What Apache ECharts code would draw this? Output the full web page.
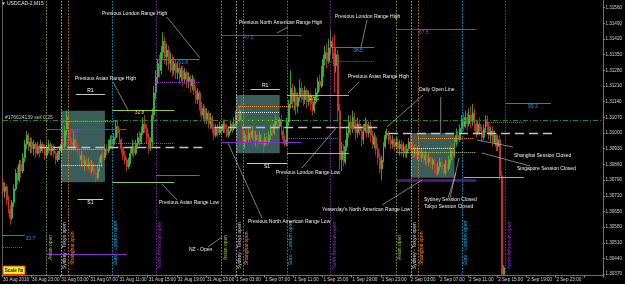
<!DOCTYPE html>
<html><head><meta charset="utf-8">
<script src="https://cdn.jsdelivr.net/npm/echarts@6/dist/echarts.min.js"></script>
<style>html,body{margin:0;padding:0;background:#000;}#c{width:625px;height:284px;}</style>
</head><body><div id="c"></div>
<script>
// ---------- DATA (prices are quoted x 10000, e.g. 13092 = 1.3092) ----------
const opens = [
13078,13074,13076,13070,13066,13062,13069,13075,13082,13079,
13086,13083,13089,13095,13099,13094,13096,13093,13095,13091,
13094,13092,13095,13093,13090,13093,13095,13092,13094,13091,
13088,13090,13092,13095,13094,13101,13107,13100,13096,13093,
13097,13094,13091,13088,13090,13086,13088,13085,13087,13083,
13086,13082,13080,13084,13087,13090,13089,13093,13092,13095,
13097,13095,13098,13103,13100,13097,13093,13090,13088,13085,
13087,13091,13094,13091,13095,13098,13096,13100,13104,13102,
13098,13093,13096,13108,13118,13125,13131,13128,13136,13141,
13134,13137,13131,13133,13128,13131,13127,13129,13125,13128,
13124,13127,13123,13125,13121,13124,13119,13115,13118,13112,
13108,13111,13106,13109,13104,13107,13102,13099,13102,13100,
13103,13101,13104,13102,13099,13101,13104,13102,13104,13108,
13106,13110,13103,13096,13099,13097,13100,13098,13101,13097,
13099,13096,13099,13097,13095,13098,13096,13099,13102,13100,
13104,13106,13103,13106,13101,13097,13095,13105,13113,13120,
13114,13118,13112,13116,13120,13117,13115,13119,13114,13117,
13113,13110,13114,13118,13123,13121,13127,13133,13136,13132,
13138,13141,13136,13130,13135,13110,13088,13092,13087,13094,
13100,13105,13102,13107,13104,13100,13104,13101,13097,13101,
13104,13100,13103,13099,13095,13098,13093,13089,13084,13088,
13094,13099,13100,13097,13095,13097,13094,13096,13093,13095,
13092,13094,13091,13093,13096,13094,13091,13093,13090,13092,
13089,13091,13088,13090,13087,13089,13086,13088,13084,13082,
13085,13087,13084,13082,13086,13084,13088,13092,13090,13096,
13099,13097,13102,13106,13103,13107,13104,13108,13105,13109,
13104,13100,13104,13101,13098,13102,13106,13103,13099,13101,
13096,13099,13094,13097,13081,13037];
const closes = [
13074,13076,13070,13066,13062,13069,13075,13082,13079,13086,
13083,13089,13095,13099,13094,13096,13093,13095,13091,13094,
13092,13095,13093,13090,13093,13095,13092,13094,13091,13088,
13090,13092,13095,13094,13101,13107,13100,13096,13093,13097,
13094,13091,13088,13090,13086,13088,13085,13087,13083,13086,
13082,13080,13084,13087,13090,13089,13093,13092,13095,13097,
13095,13098,13103,13100,13097,13093,13090,13088,13085,13087,
13091,13094,13091,13095,13098,13096,13100,13104,13102,13098,
13093,13096,13108,13118,13125,13131,13128,13136,13141,13134,
13137,13131,13133,13128,13131,13127,13129,13125,13128,13124,
13127,13123,13125,13121,13124,13119,13115,13118,13112,13108,
13111,13106,13109,13104,13107,13102,13099,13102,13100,13103,
13101,13104,13102,13099,13101,13104,13102,13104,13108,13106,
13110,13103,13096,13099,13097,13100,13098,13101,13097,13099,
13096,13099,13097,13095,13098,13096,13099,13102,13100,13104,
13106,13103,13106,13101,13097,13095,13105,13113,13120,13114,
13118,13112,13116,13120,13117,13115,13119,13114,13117,13113,
13110,13114,13118,13123,13121,13127,13133,13136,13132,13138,
13141,13136,13130,13135,13110,13088,13092,13087,13094,13100,
13105,13102,13107,13104,13100,13104,13101,13097,13101,13104,
13100,13103,13099,13095,13098,13093,13089,13084,13088,13094,
13099,13100,13097,13095,13097,13094,13096,13093,13095,13092,
13094,13091,13093,13096,13094,13091,13093,13090,13092,13089,
13091,13088,13090,13087,13089,13086,13088,13084,13082,13085,
13087,13084,13082,13086,13084,13088,13092,13090,13096,13099,
13097,13102,13106,13103,13107,13104,13108,13105,13109,13104,
13100,13104,13101,13098,13102,13106,13103,13099,13101,13096,
13099,13094,13097,13081,13037,13040];
const lows = [
13072,13071,13068,13064,13059,13061,13067,13074,13077,13078,
13080,13082,13087,13093,13092,13091,13091,13090,13089,13090,
13089,13091,13091,13088,13089,13091,13090,13090,13089,13086,
13087,13088,13091,13092,13093,13099,13098,13094,13091,13092,
13092,13089,13086,13085,13084,13083,13083,13084,13081,13082,
13080,13078,13079,13083,13085,13087,13088,13090,13091,13093,
13093,13094,13097,13098,13095,13091,13088,13086,13083,13084,
13086,13090,13089,13090,13093,13094,13095,13099,13100,13095,
13091,13092,13094,13106,13115,13122,13125,13126,13133,13131,
13130,13128,13127,13125,13126,13124,13124,13122,13123,13121,
13122,13120,13120,13118,13119,13117,13113,13113,13110,13106,
13106,13104,13104,13102,13102,13100,13097,13098,13098,13099,
13099,13100,13100,13098,13098,13100,13100,13101,13103,13104,
13105,13101,13094,13093,13095,13096,13096,13097,13095,13094,
13093,13095,13095,13091,13094,13094,13095,13097,13098,13099,
13102,13101,13102,13099,13095,13094,13094,13103,13111,13111,
13110,13108,13109,13114,13114,13112,13113,13111,13112,13110,
13108,13109,13113,13117,13119,13120,13125,13130,13129,13131,
13135,13133,13118,13127,13105,13084,13083,13085,13086,13092,
13098,13099,13100,13101,13097,13098,13099,13094,13095,13100,
13098,13098,13096,13093,13093,13090,13086,13082,13079,13087,
13093,13097,13095,13093,13093,13092,13093,13091,13090,13090,
13089,13089,13089,13092,13092,13089,13089,13088,13088,13087,
13087,13086,13086,13085,13085,13084,13084,13082,13081,13081,
13083,13082,13080,13081,13082,13083,13086,13088,13089,13094,
13095,13096,13100,13101,13102,13101,13103,13102,13103,13101,
13098,13099,13099,13096,13097,13100,13100,13097,13096,13094,
13095,13092,13092,13079,13036.5,13036.5];
const highs = [
13080,13078,13077,13072,13068,13070,13077,13084,13085,13088,
13088,13091,13097,13101,13100,13098,13098,13097,13096,13096,
13095,13097,13096,13095,13095,13097,13096,13095,13095,13092,
13092,13094,13097,13098,13103,13110,13108,13102,13098,13101,
13099,13096,13093,13092,13091,13090,13090,13089,13088,13088,
13087,13084,13086,13089,13091,13093,13095,13095,13097,13099,
13099,13100,13105,13106,13102,13098,13094,13092,13089,13089,
13093,13097,13096,13097,13100,13101,13103,13107,13108,13104,
13100,13098,13111,13121,13128,13133,13135,13139,13145,13143,
13140,13139,13136,13135,13134,13133,13132,13131,13130,13130,
13129,13128,13127,13126,13126,13125,13121,13120,13119,13114,
13113,13112,13111,13110,13109,13108,13104,13104,13104,13105,
13104,13106,13106,13104,13103,13106,13105,13107,13110,13111,
13112,13117,13105,13101,13102,13102,13103,13103,13103,13101,
13100,13101,13100,13098,13100,13100,13101,13104,13104,13106,
13108,13108,13107,13108,13103,13099,13107,13115,13128,13122,
13121,13120,13118,13124,13123,13119,13121,13120,13119,13118,
13115,13116,13120,13125,13126,13130,13135,13139,13140,13142,
13146,13143,13144,13138,13137,13113,13096,13095,13097,13103,
13108,13108,13110,13109,13106,13107,13106,13103,13104,13107,
13106,13105,13105,13101,13100,13099,13095,13091,13090,13096,
13101,13102,13101,13099,13099,13098,13098,13098,13097,13097,
13096,13095,13095,13098,13100,13096,13095,13094,13094,13093,
13093,13092,13092,13091,13091,13090,13089,13089,13086,13087,
13089,13089,13086,13088,13088,13090,13094,13095,13098,13102,
13101,13104,13108,13109,13110,13109,13111,13112,13113,13111,
13106,13106,13107,13103,13104,13108,13108,13105,13103,13103,
13101,13100,13099,13099,13083,13041];

const xTickLabels = ["30 Aug 2016","30 Aug 23:00","31 Aug 03:00","31 Aug 07:00","31 Aug 11:00","31 Aug 15:00","31 Aug 19:00","31 Aug 23:00","1 Sep 03:00","1 Sep 07:00","1 Sep 11:00","1 Sep 15:00","1 Sep 19:00","1 Sep 23:00","2 Sep 03:00","2 Sep 07:00","2 Sep 11:00","2 Sep 15:00","2 Sep 19:00","2 Sep 23:00"];
const yTickValues = [13037,13044,13051,13058,13065,13072,13079,13086,13093,13100,13107,13114,13121,13128,13135,13142,13149,13156];
const totalSlots = 330;          // bar slots on the time axis (incl. empty future)
const barsPerLabel = 16;          // 4 hours of M15 bars

// session opens (bar index)
const sessionNames = ["Asian open","Sydney - Tokyo open","Shanghai open","Euro - London open","North American open"];
const sessionBars = [[24,120,216],[32,128,224],[36,132,228],[60,156,252],[84,180,276]];

// Asian range boxes: [startBar, endBar, high, low]
const asianBoxes = [[32,56,13110,13078],[128,152,13117,13091],[224,248,13100,13080]];
// Daily open lines: [startBar, endBar, price]
const dailyOpens = [[20,112,13093.8],[116,208,13102.8],[212,304,13099.9]];
// Range levels: [startBar, endBar, price, kind, label]
const levels = [
 [0,12,13054.2,'london','33.7'],[0,11,13049.0,'naDot',''],
 [24,68,13101.8,'na','25.8'],[24,68,13045.9,'na',''],
 [60,94,13110.3,'asian','32.8'],[60,94,13078.0,'asian',''],
 [84,108,13132.9,'london','51.6'],[84,108,13081.3,'london',''],[84,108,13122.7,'naDot',''],
 [32,63,13105.4,'orangeDot',''],[32,55,13085.5,'whiteDot',''],[24,55,13092.8,'asianDot',''],[61,94,13095.4,'blueDot',''],
 [120,164,13143.8,'na','47.0'],[120,164,13095.9,'na',''],
 [156,190,13116.7,'asian','28.1'],[156,190,13091.0,'asian',''],
 [180,204,13138.1,'london','38.5'],[180,204,13132.2,'naDot',''],[180,204,13102.5,'london',''],
 [128,160,13112.1,'orangeDot',''],[128,152,13109.3,'whiteDot',''],[128,164,13105.5,'asianDot',''],[157,184,13097.7,'blueDot',''],
 [216,260,13146.3,'na','67.5'],[216,260,13079.0,'naThick',''],
 [253,286,13080.3,'asian',''],[276,301,13113.3,'london','99.3'],
 [216,260,13091.4,'asianDot',''],[224,248,13093.2,'whiteDot',''],[228,259,13097.9,'orangeDot',''],[267,286,13104.8,'blueDot','']
];
// Pivot levels: [startBar, endBar, price, name]
const pivots = [[40,56,13117.3,'R1'],[41,55,13070.4,'S1'],[136,152,13119.5,'R1'],[134,156,13086.5,'S1'],[316,330,13116.5,'R1'],[316,330,13083.5,'S1']];
const orderPrice = 13105.8;
const orderText = "#176624139 sell 0.25";
const symbolText = "USDCAD-2,M15";
const notes = ["Previous London Range High","Previous Asian Range High","Previous Asian Range Low","NZ - Open",
 "Previous North American Range High","Previous London Range High","Previous Asian Range High",
 "Previous London Range Low","Previous North American Range Low","Yesterday's North American Range Low",
 "Daily Open Line","Sydney Session Closed","Tokyo Session Closed","Shanghai Session Closed","Singapore Session Closed"];

// ---------- STYLE / LAYOUT ----------
const FONT = '"Liberation Sans", Arial, sans-serif';
const kindStyle = {
  london:{color:'#1b86c4',type:'solid',width:1,label:'#1e9bff'},
  na:{color:'#8a2dc8',type:'solid',width:1,label:'#9b3fd9'},
  naThick:{color:'#4e2478',type:'solid',width:2.5},
  asian:{color:'#9acd32',type:'solid',width:1,label:'#e0e000'},
  naDot:{color:'#9932cc',type:'dotted',width:1},
  orangeDot:{color:'#ff8c00',type:'dotted',width:1},
  whiteDot:{color:'#e6e6e6',type:'dotted',width:1},
  asianDot:{color:'#b5d22a',type:'dotted',width:1},
  blueDot:{color:'#1e90ff',type:'dotted',width:1}
};
const sessionColors = ['#9acd32','#dcdcdc','#ff8c00','#00bfff','#9932cc'];
const sessionLabelBottom = [260,269,265,265,269];
const notePos = [[102,14],[75,79],[159,203],[189,250],[239,23],[335,17],[348,77],[276,173],[248,222],[322,210],[419,90],[424,200],[424,207],[514,156],[517,169]];
const pointerLines = [[167,17,200,58],[113,82,128,110],[288,27,277,33],[367,20,361,47],[359,82,348,93],[423,95,387,127],[440.7,97,440.7,133],
  [162,184,177,200],[302,168,337,127],[228,143,262,218],[382,205,422,180],[208,247,222,237],[448,198,456,173],[450,198,459,158],[477,140,513,147],[482,153,530,166]];

const chart = echarts.init(document.getElementById('c'), null, {renderer:'canvas'});
const cats = Array.from({length: totalSlots}, (_, i) => i);
const candleData = opens.map((o, i) => [o, closes[i], lows[i], highs[i]]);

const levelLines = levels.map(l => {
  const s = kindStyle[l[3]];
  return [{coord:[l[0], l[2]], lineStyle:{color:s.color, type:s.type, width:s.width}}, {coord:[l[1], l[2]]}];
});
const dailyLines = dailyOpens.map(d => [{coord:[d[0], d[2]], lineStyle:{color:'#c4c4c4', type:[9,5], width:1.4}}, {coord:[d[1], d[2]]}]);
const pivotLines = pivots.map(p => [{coord:[p[0], p[2]], lineStyle:{color:'#c8c8c8', type:'solid', width:1},
  label:{show:true, formatter:p[3], position: p[3]==='R1' ? 'insideMiddleTop' : 'insideMiddleBottom', distance:1, color:'#ffffff', fontSize:5, fontFamily:FONT}}, {coord:[p[1], p[2]]}]);
const sessionLines = [];
sessionBars.forEach((arr, k) => arr.forEach(b => sessionLines.push({xAxis:b, lineStyle:{color:sessionColors[k], type:[1.2,1.8], width:1}})));
const orderLine = [[{coord:[0, orderPrice], lineStyle:{color:'#1f8a1f', type:[5,2,1,2], width:1}}, {coord:[totalSlots-1, orderPrice]}]];
const levelLabels = levels.filter(l => l[4]).map(l => ({coord:[l[0]+15, l[2]], symbol:'circle', symbolSize:0.1, itemStyle:{color:'rgba(0,0,0,0)'},
  label:{show:true, position:'bottom', distance:0.5, formatter:l[4], color:kindStyle[l[3]].label, fontSize:5, fontFamily:FONT}}));
const boxAreas = asianBoxes.map(b => [{coord:[b[0], b[2]]}, {coord:[b[1], b[3]]}]);

chart.setOption({
  animation:false,
  backgroundColor:'#000000',
  grid:{left:0.6, top:0, width:607.9, height:275.5, containLabel:false},
  xAxis:{type:'category', data:cats, boundaryGap:true,
    axisLine:{lineStyle:{color:'#6e6e6e', width:1}},
    axisTick:{show:true, interval:barsPerLabel-1, length:2, lineStyle:{color:'#8a8a8a'}},
    axisLabel:{interval:barsPerLabel-1, align:'left', margin:1.5, fontSize:4.6, color:'#d2d2d2', fontFamily:FONT,
      formatter:(v, idx) => xTickLabels[idx / barsPerLabel] || ''},
    splitLine:{show:false}},
  yAxis:{type:'value', position:'right', min:13036.4, max:13159.4, scale:true,
    axisLine:{show:true, lineStyle:{color:'#4f7f7f', width:1}},
    axisTick:{show:true, length:2, customValues:yTickValues, lineStyle:{color:'#8a8a8a'}},
    axisLabel:{customValues:yTickValues, margin:2.5, fontSize:4.6, color:'#d2d2d2', fontFamily:FONT,
      formatter:v => (v/10000).toFixed(5)},
    splitLine:{show:false}},
  series:[
    {type:'candlestick', data:candleData, clip:true, barWidth:1.4, z:3,
      itemStyle:{color:'#3ec43e', color0:'#e23434', borderColor:'#3ec43e', borderColor0:'#e23434', borderWidth:0.8},
      markArea:{silent:true, itemStyle:{color:'#3a5d59'}, data:boxAreas}},
    {type:'line', data:[], symbol:'none', z:4,
      markLine:{silent:true, symbol:['none','none'], label:{show:false}, animation:false,
        data:[...sessionLines, ...levelLines, ...dailyLines, ...pivotLines, ...orderLine]},
      markPoint:{silent:true, data:levelLabels}}
  ]
});

// ---------- annotations (text, pointers) ----------
const g = [];
g.push({type:'line', shape:{x1:2.5,y1:0,x2:2.5,y2:275.5}, style:{stroke:'#5a5a5a', lineWidth:1}, silent:true});
sessionBars.forEach((arr, k) => arr.forEach(b => {
  const x = chart.convertToPixel({xAxisIndex:0}, b);
  g.push({type:'text', x:x+1.2, y:sessionLabelBottom[k], rotation:Math.PI/2, silent:true, z:10,
    style:{text:sessionNames[k], fill:sessionColors[k], font:'5px '+FONT, textAlign:'left', textVerticalAlign:'top'}});
}));
notes.forEach((t, k) => g.push({type:'text', x:notePos[k][0], y:notePos[k][1], silent:true, z:10,
  style:{text:t, fill:'#f0f0f0', font:'5px '+FONT, textAlign:'left', textVerticalAlign:'middle'}}));
pointerLines.forEach(p => g.push({type:'line', shape:{x1:p[0],y1:p[1],x2:p[2],y2:p[3]}, silent:true, z:10, style:{stroke:'#cfcfcf', lineWidth:0.6}}));
const oy = chart.convertToPixel({yAxisIndex:0}, orderPrice);
g.push({type:'text', x:5, y:oy-2.5, silent:true, z:10, style:{text:orderText, fill:'#c8c8c8', font:'5px '+FONT, textAlign:'left', textVerticalAlign:'middle'}});
g.push({type:'polygon', shape:{points:[[2,2.5],[5,2.5],[3.5,5]]}, style:{fill:'#d0d0d0'}, silent:true, z:10});
g.push({type:'text', x:7, y:4, silent:true, z:10, style:{text:symbolText, fill:'#e8e8e8', font:'5px '+FONT, textAlign:'left', textVerticalAlign:'middle'}});
g.push({type:'rect', shape:{x:3, y:266, width:22, height:8.5}, style:{fill:'#ffff00', stroke:'#ff2020', lineWidth:1}, silent:true, z:10});
g.push({type:'text', x:14, y:270.3, silent:true, z:11, style:{text:'Scale fix', fill:'#000000', font:'bold 4.6px '+FONT, textAlign:'center', textVerticalAlign:'middle'}});
chart.setOption({graphic:g});
</script></body></html>
